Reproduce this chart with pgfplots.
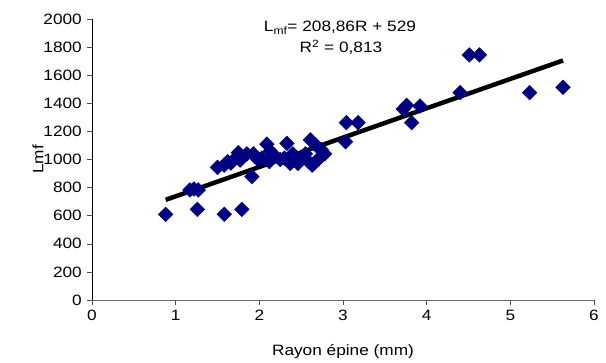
\documentclass[border=0pt]{standalone}
\usepackage{fontspec}
\setmainfont{Liberation Sans}[FakeStretch=1.15]
\usepackage{pgfplots}
\pgfplotsset{compat=1.18}
\definecolor{navyb}{RGB}{0,0,128}
\begin{document}
\fontsize{15bp}{18bp}\selectfont
\begin{tikzpicture}
\path[use as bounding box] (0,0) rectangle (606bp,363bp);
\begin{axis}[
  at={(92bp,63bp)}, anchor=south west,
  scale only axis, width=502bp, height=281bp,
  xmin=0, xmax=6, ymin=0, ymax=2000,
  xtick={0,1,...,6}, ytick={0,200,...,2000},
  axis x line*=bottom, axis y line*=left,
  axis line style={-},
  x axis line style={draw=black!60},
  y axis line style={draw=black},
  tick align=outside, major tick length=5bp,
  tick style={black!70, line width=0.6pt},
  /pgf/number format/assume math mode=true,
  /pgf/number format/1000 sep={},
  xlabel={Rayon épine (mm)}, ylabel={Lmf},
  every axis x label/.style={at={(axis description cs:0.5,0)}, yshift=-52bp, anchor=center},
  every axis y label/.style={at={(axis description cs:0,0.5)}, xshift=-54bp, rotate=90, anchor=center},
  clip=false,
]
\addplot[only marks, mark=square*, mark size=5.2bp, mark options={rotate=45, fill=navyb, draw=navyb}] table {
x y
0.88 610
1.17 783
1.22 790
1.27 783
1.26 645
1.58 610
1.79 645
1.50 944
1.58 960
1.62 985
1.66 975
1.70 1000
1.75 1049
1.77 996
1.80 1020
1.85 1040
1.91 878
1.93 1040
1.98 1000
2.03 1010
2.09 1110
2.12 985
2.13 1060
2.18 1030
2.25 1000
2.30 1010
2.33 1115
2.37 972
2.40 1040
2.46 972
2.50 1010
2.55 1040
2.58 990
2.61 1139
2.63 960
2.65 972
2.68 1100
2.70 1000
2.74 1070
2.78 1040
3.03 1127
3.04 1262
3.18 1262
3.72 1360
3.76 1385
3.82 1262
3.92 1380
4.40 1476
4.51 1744
4.63 1744
5.23 1476
5.63 1514
};
\addplot[black, line width=4.5bp] coordinates {(0.88,712.8) (5.63,1704.9)};
\node[anchor=base] at (axis description cs:0.494,0.954) {L\textsubscript{mf}= 208,86R + 529};
\node[anchor=base] at (axis description cs:0.496,0.879) {R\textsuperscript{2} = 0,813};
\end{axis}
\end{tikzpicture}
\end{document}
